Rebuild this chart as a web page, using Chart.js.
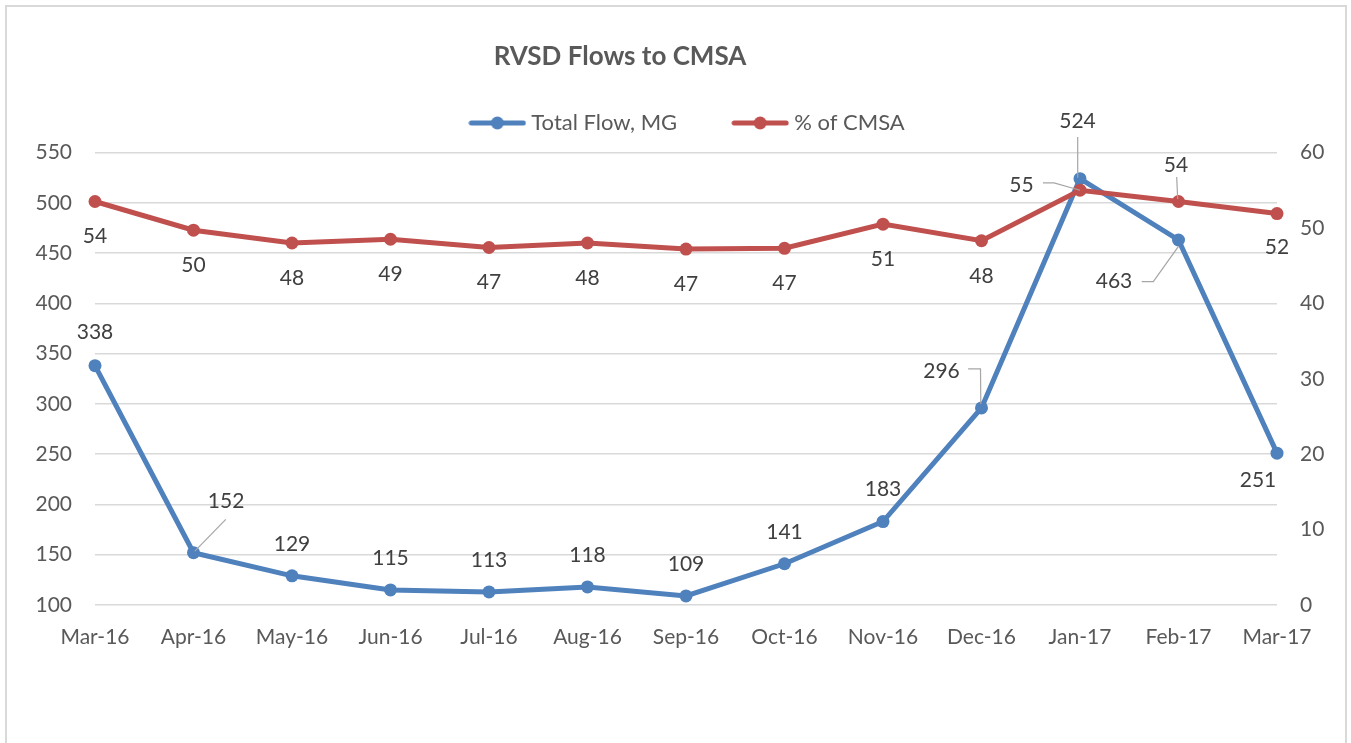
<!DOCTYPE html>
<html>
<head>
<meta charset="utf-8">
<script src="https://cdn.jsdelivr.net/npm/chart.js@4/dist/chart.umd.min.js"></script>
<style>
html,body{margin:0;padding:0;background:#ffffff;overflow:hidden}
canvas{display:block}
</style>
</head>
<body>
<canvas id="c" width="1351" height="743"></canvas>
<script>
// ---- data ----
const chartTitle = 'RVSD Flows to CMSA';
const categories = ['Mar-16','Apr-16','May-16','Jun-16','Jul-16','Aug-16','Sep-16','Oct-16','Nov-16','Dec-16','Jan-17','Feb-17','Mar-17'];
const seriesNames = ['Total Flow, MG', '% of CMSA'];
const totalFlow = [338, 152, 129, 115, 113, 118, 109, 141, 183, 296, 524, 463, 251];
const pctCMSA = [53.5, 49.7, 48.0, 48.5, 47.4, 48.0, 47.2, 47.3, 50.5, 48.3, 55.0, 53.5, 51.9];
const leftTicks = [100, 150, 200, 250, 300, 350, 400, 450, 500, 550];
const rightTicks = [0, 10, 20, 30, 40, 50, 60];

// ---- styles ----
const BLUE = '#4f81bd';
const RED = '#c0504d';
const FONT = 'Lato, "Open Sans", "DejaVu Sans", sans-serif';
const AXIS_COLOR = '#595959';
const LABEL_COLOR = '#404040';

// data-label placement (offsets from each point, leader line vertices relative to point)
const labelLayout = [
  { def: [0, -32], special: {
      0: { off: [0, -33] },
      1: { off: [32.6, -51], leader: [[32.3, -33.3], [1.3, -1.6]] },
      9: { off: [-40, -37], leader: [[-13.4, -39], [-1, -39], [-0.7, -4]] },
      10: { off: [-2.5, -57], leader: [[-2.3, -41.6], [-2.3, -1]] },
      11: { off: [-64.5, 41.7], leader: [[-36.8, 41.7], [-25.2, 41.7], [-0.2, 6.7]] },
      12: { off: [-19, 27] }
  }},
  { def: [0, 35], special: {
      10: { off: [-58.5, -5], leader: [[-37, -7.3], [-26, -7.3], [0, 0]] },
      11: { off: [-2.5, -36.5], leader: [[-1.8, -24.5], [-0.8, -2.5]] },
      12: { off: [0, 34] }
  }}
];

function swatch(color) {
  const c = document.createElement('canvas');
  c.width = 58; c.height = 14;
  const g = c.getContext('2d');
  g.strokeStyle = color; g.lineWidth = 5; g.lineCap = 'round';
  g.beginPath(); g.moveTo(3, 7); g.lineTo(55, 7); g.stroke();
  g.fillStyle = color;
  g.beginPath(); g.arc(29, 7, 6.5, 0, Math.PI * 2); g.fill();
  return c;
}
const swatches = [swatch(BLUE), swatch(RED)];

const framePlugin = {
  id: 'frame',
  beforeDraw(chart) {
    const ctx = chart.ctx;
    ctx.save();
    ctx.fillStyle = '#ffffff';
    ctx.fillRect(0, 0, chart.width, chart.height);
    ctx.strokeStyle = '#d9d9d9';
    ctx.lineWidth = 2;
    ctx.strokeRect(6, 6, 1340, 760);
    ctx.restore();
  }
};

const titlePlugin = {
  id: 'customTitle',
  afterDraw(chart) {
    const ctx = chart.ctx;
    ctx.save();
    ctx.font = 'bold 26px ' + FONT;
    ctx.fillStyle = AXIS_COLOR;
    ctx.textAlign = 'center';
    ctx.textBaseline = 'middle';
    ctx.fillText(chartTitle, 620, 57);
    ctx.restore();
  }
};

const legendSpacer = {
  id: 'legendSpacer',
  afterInit(chart) {
    const lg = chart.legend;
    if (!lg || lg._spaced) return;
    const fit = lg.fit;
    lg.fit = function () { fit.call(this); this.height += 8.5; };
    lg._spaced = true;
  }
};

const dataLabels = {
  id: 'dataLabels',
  afterDatasetsDraw(chart) {
    const ctx = chart.ctx;
    ctx.save();
    ctx.font = '21px ' + FONT;
    ctx.textAlign = 'center';
    ctx.textBaseline = 'middle';
    chart.data.datasets.forEach((ds, di) => {
      const meta = chart.getDatasetMeta(di);
      const lay = labelLayout[di];
      meta.data.forEach((pt, i) => {
        const sp = lay.special[i] || {};
        const off = sp.off || lay.def;
        if (sp.leader) {
          ctx.strokeStyle = '#a6a6a6';
          ctx.lineWidth = 1.2;
          ctx.beginPath();
          sp.leader.forEach((p, k) => {
            const X = pt.x + p[0], Y = pt.y + p[1];
            if (k === 0) ctx.moveTo(X, Y); else ctx.lineTo(X, Y);
          });
          ctx.stroke();
        }
        ctx.fillStyle = LABEL_COLOR;
        ctx.fillText(String(Math.round(ds.data[i])), pt.x + off[0], pt.y + off[1]);
      });
    });
    ctx.restore();
  }
};

const tickFont = { family: FONT, size: 21 };

new Chart(document.getElementById('c'), {
  type: 'line',
  data: {
    labels: categories,
    datasets: [
      {
        label: seriesNames[0], data: totalFlow, yAxisID: 'y',
        borderColor: BLUE, backgroundColor: BLUE, borderWidth: 5,
        pointRadius: 6.5, pointBackgroundColor: BLUE, pointBorderWidth: 0,
        tension: 0, clip: false, order: 1
      },
      {
        label: seriesNames[1], data: pctCMSA, yAxisID: 'y1',
        borderColor: RED, backgroundColor: RED, borderWidth: 5,
        pointRadius: 6.5, pointBackgroundColor: RED, pointBorderWidth: 0,
        tension: 0, clip: false, order: 0
      }
    ]
  },
  options: {
    responsive: false,
    devicePixelRatio: 1,
    animation: false,
    events: [],
    layout: { padding: { left: 28, right: 0, top: 52, bottom: 0 } },
    plugins: {
      title: { display: false },
      tooltip: { enabled: false },
      legend: {
        display: true,
        position: 'top',
        labels: {
          usePointStyle: true,
          pointStyleWidth: 46,
          padding: 60,
          color: AXIS_COLOR,
          font: { family: FONT, size: 22 },
          generateLabels(chart) {
            return chart.data.datasets.map((ds, i) => ({
              text: ds.label,
              pointStyle: swatches[i],
              fillStyle: ds.borderColor,
              strokeStyle: ds.borderColor,
              lineWidth: 0,
              fontColor: AXIS_COLOR,
              hidden: !chart.isDatasetVisible(i),
              datasetIndex: i
            }));
          }
        }
      }
    },
    scales: {
      x: {
        type: 'category',
        offset: false,
        grid: { display: false, drawTicks: false },
        border: { display: false },
        ticks: { color: AXIS_COLOR, font: tickFont, padding: 20, maxRotation: 0, autoSkip: false },
        afterFit(s) { s.height = 138; }
      },
      y: {
        position: 'left',
        min: leftTicks[0], max: leftTicks[leftTicks.length - 1],
        grid: { color: '#d9d9d9', lineWidth: 1.5, drawTicks: false },
        border: { display: false },
        ticks: { color: AXIS_COLOR, font: tickFont, padding: 23 },
        afterBuildTicks(s) { s.ticks = leftTicks.map(v => ({ value: v })); },
        afterFit(s) { s.width = 67; }
      },
      y1: {
        position: 'right',
        min: rightTicks[0], max: rightTicks[rightTicks.length - 1],
        grid: { drawOnChartArea: false, drawTicks: false },
        border: { display: false },
        ticks: { color: AXIS_COLOR, font: tickFont, padding: 23 },
        afterBuildTicks(s) { s.ticks = rightTicks.map(v => ({ value: v })); },
        afterFit(s) { s.width = 74; }
      }
    }
  },
  plugins: [framePlugin, legendSpacer, dataLabels, titlePlugin]
});
</script>
</body>
</html>
